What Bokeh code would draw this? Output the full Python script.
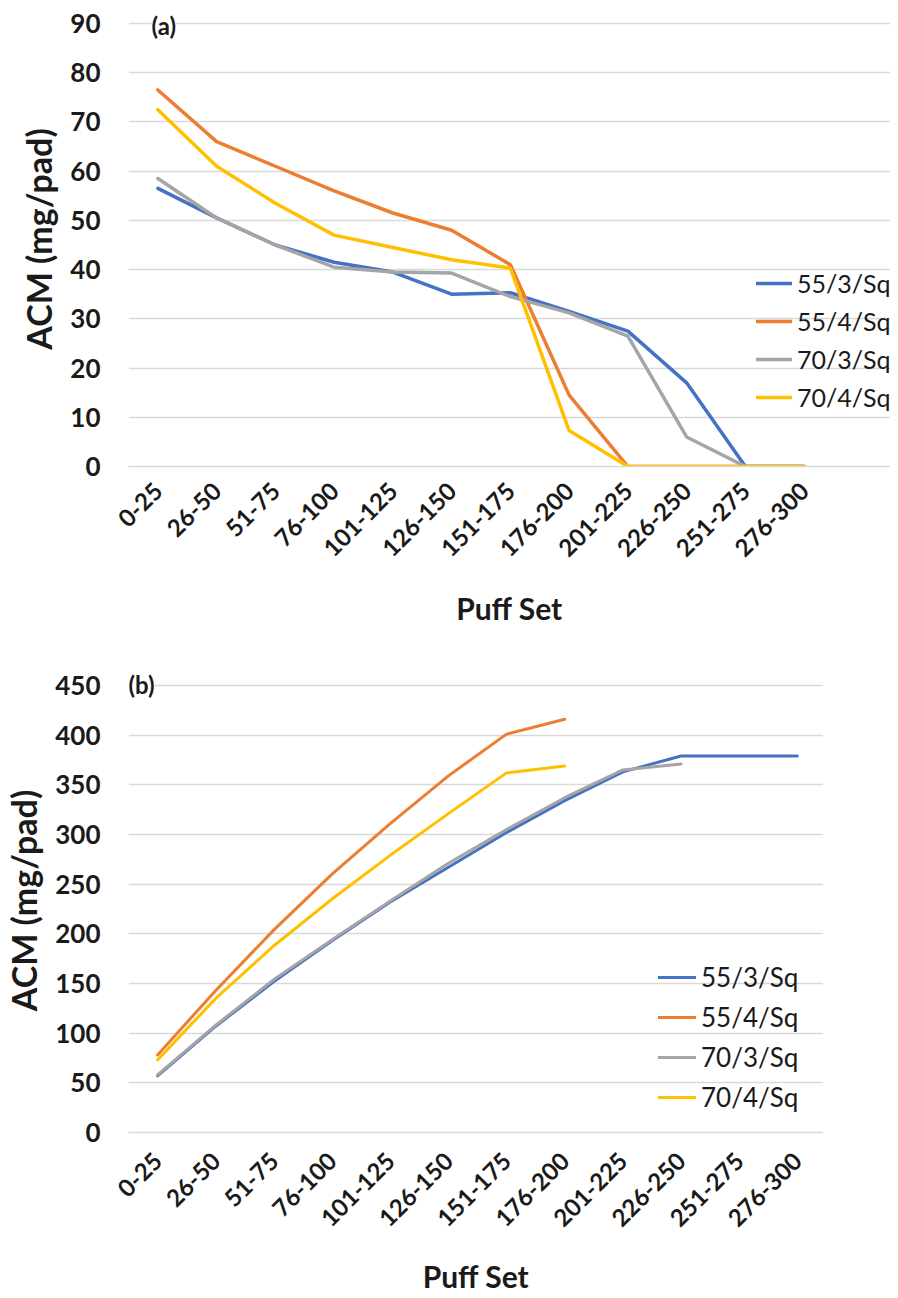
from bokeh.plotting import figure
from bokeh.models import (Legend, LegendItem, Label, Range1d, FixedTicker,
                          SingleIntervalTicker)
from bokeh.layouts import column
from bokeh.embed import file_html
from bokeh.resources import INLINE
import math

# ---------------- data ----------------
puff_sets = ["0-25", "26-50", "51-75", "76-100", "101-125", "126-150",
             "151-175", "176-200", "201-225", "226-250", "251-275", "276-300"]
series_names = ["55/3/Sq", "55/4/Sq", "70/3/Sq", "70/4/Sq"]
series_colors = ["#4472C4", "#ED7D31", "#A5A5A5", "#FFC000"]

# panel (a): ACM per puff set
a_55_3 = [56.5, 50.5, 45.0, 41.5, 39.5, 35.0, 35.3, 31.5, 27.5, 17.0, 0.0, 0.0]
a_55_4 = [76.5, 66.0, 61.0, 56.0, 51.5, 48.0, 41.0, 14.5, 0.0, 0.0, 0.0, 0.0]
a_70_3 = [58.5, 50.5, 45.0, 40.5, 39.5, 39.3, 34.5, 31.2, 26.5, 6.0, 0.0, 0.0]
a_70_4 = [72.5, 61.0, 53.5, 47.0, 44.5, 42.0, 40.3, 7.3, 0.0, 0.0, 0.0, 0.0]

# panel (b): cumulative ACM
b_55_3 = [57, 107, 152, 193, 232, 267, 302, 334, 363, 379, 379, 379]
b_55_4 = [78, 143, 204, 260, 311, 359, 401, 416]
b_70_3 = [58, 108, 154, 194, 233, 271, 305, 337, 365, 371]
b_70_4 = [73, 135, 188, 235, 279, 321, 362, 369]

FONT = "Lato"
GRID = "#D9D9D9"
TXT = "#1a1a1a"
x_idx = list(range(len(puff_sets)))


def make_panel(series, ymax_view, ystep, width, height, x_end, borders, line_w,
               legend_loc, legend_fs, legend_row, glyph_w, tag, tag_xy,
               label_standoff, title_standoff):
    left, right, top, bottom = borders
    p = figure(width=width, height=height,
               x_range=Range1d(-0.5, x_end), y_range=Range1d(0, ymax_view),
               output_backend="svg", toolbar_location=None,
               min_border_left=left, min_border_right=right,
               min_border_top=top, min_border_bottom=bottom)
    p.outline_line_color = None
    p.background_fill_color = "white"
    p.xgrid.grid_line_color = None
    p.ygrid.grid_line_color = GRID
    p.ygrid.grid_line_width = 1.3
    p.yaxis.ticker = SingleIntervalTicker(interval=ystep)
    p.xaxis.ticker = FixedTicker(ticks=x_idx)
    p.xaxis.major_label_overrides = {i: s for i, s in zip(x_idx, puff_sets)}

    renderers = []
    for vals, col in zip(series, series_colors):
        r = p.line(x_idx[:len(vals)], vals, line_color=col, line_width=line_w,
                   line_join="round", line_cap="round")
        renderers.append(r)

    for ax in (p.xaxis[0], p.yaxis[0]):
        ax.major_tick_line_color = None
        ax.major_tick_out = 0
        ax.major_tick_in = 0
        ax.minor_tick_line_color = None
        ax.minor_tick_out = 0
        ax.major_label_text_font = FONT
        ax.major_label_text_font_style = "bold"
        ax.major_label_text_color = TXT
        ax.axis_label_text_font = FONT
        ax.axis_label_text_font_style = "bold"
        ax.axis_label_text_color = TXT
    p.xaxis.axis_line_color = GRID
    p.xaxis.axis_line_width = 1.3
    p.yaxis.axis_line_color = None
    p.xaxis.major_label_orientation = math.pi / 4
    p.xaxis.major_label_text_font_size = "24px"
    p.xaxis.major_label_standoff = label_standoff
    p.xaxis.axis_label = "Puff Set"
    p.xaxis.axis_label_text_font_size = "30px"
    p.xaxis.axis_label_standoff = title_standoff
    p.yaxis.major_label_text_font_size = "26px"
    p.yaxis.major_label_standoff = 28
    p.yaxis.axis_label = "ACM (mg/pad)"
    p.yaxis.axis_label_text_font_size = "34px"
    p.yaxis.axis_label_standoff = 8

    legend = Legend(items=[LegendItem(label=n, renderers=[r]) for n, r in zip(series_names, renderers)],
                    location=legend_loc, orientation="vertical", padding=0, margin=0,
                    spacing=0, glyph_width=glyph_w, glyph_height=legend_row,
                    label_height=legend_row, label_standoff=5, border_line_alpha=0,
                    background_fill_alpha=0, label_text_font=FONT,
                    label_text_font_size=legend_fs, label_text_color=TXT)
    p.add_layout(legend)

    p.add_layout(Label(x=tag_xy[0], y=tag_xy[1], x_units="screen", y_units="screen",
                       text=tag, text_font=FONT, text_font_style="bold",
                       text_font_size="24px", text_color=TXT, text_baseline="middle",
                       text_align="left", background_fill_color="white"))
    return p


top_panel = make_panel([a_55_3, a_55_4, a_70_3, a_70_4], 92.44, 10, 890, 640, 12.47,
                       (127, 0, 11, 174), 3.5, (628, 50), "25px", 38, 36,
                       "(a)", (23, 441), 20, 22)
bottom_panel = make_panel([b_55_3, b_55_4, b_70_3, b_70_4], 467.06, 50, 823, 656, 11.45,
                          (127, 0, 28, 163), 3.0, (530, 15), "26px", 40, 38,
                          "(b)", (0, 448), 24, 20)

layout = column(top_panel, bottom_panel, spacing=0)
open("out.html", "w").write(file_html(layout, INLINE))
